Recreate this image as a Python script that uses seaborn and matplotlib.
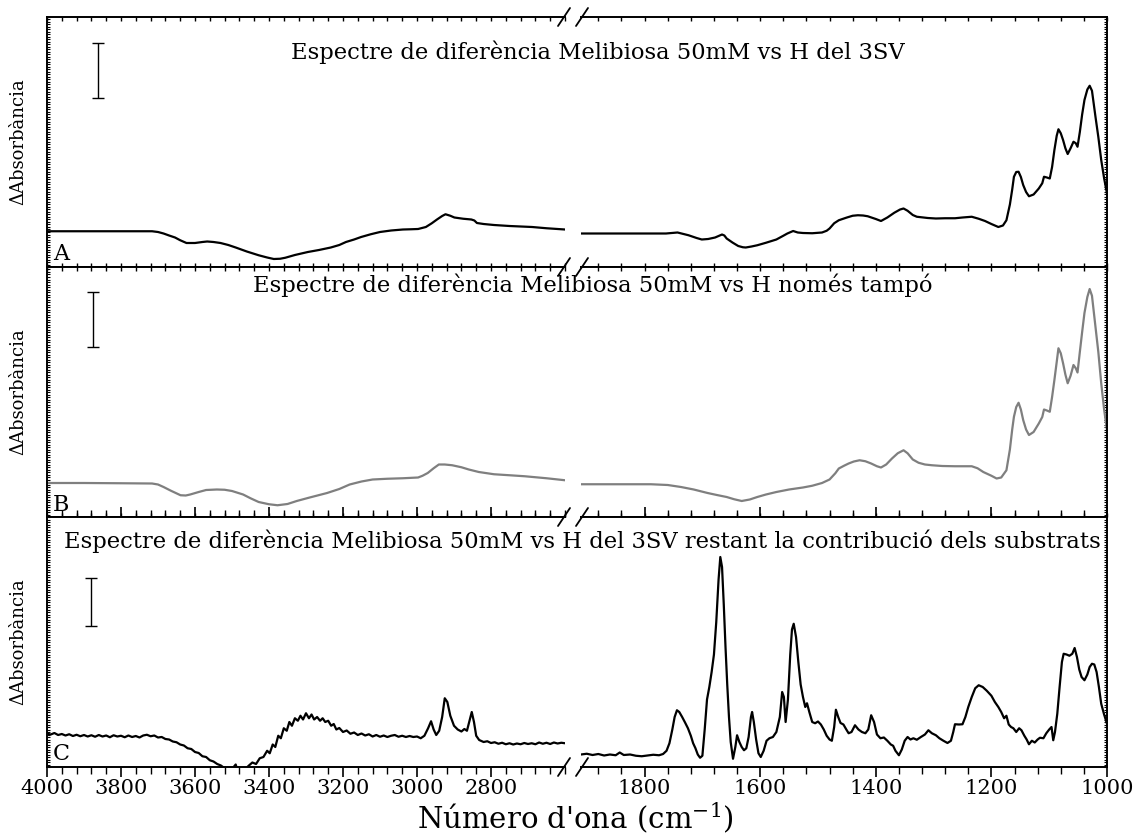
import numpy as np
import pandas as pd
import matplotlib
matplotlib.use("Agg")
import matplotlib.pyplot as plt
from matplotlib.lines import Line2D
from matplotlib.ticker import MultipleLocator, FixedLocator, NullFormatter
import seaborn as sns

# ---------------- data (arbitrary ΔA units, 0-100 = full panel height) ----------------
# Panel A : Melibiosa 50mM vs H del 3SV
a_left_wn = [4000, 3900, 3800, 3716, 3700, 3685, 3670, 3654, 3640, 3623, 3600, 3580, 3567, 3550, 3531, 3510,
             3490, 3460, 3428, 3405, 3387, 3370, 3356, 3330, 3295, 3265, 3233, 3210, 3192, 3170, 3151, 3125,
             3100, 3070, 3038, 3015, 2997, 2976, 2960, 2946, 2932, 2923, 2910, 2899, 2875, 2860, 2853, 2845,
             2838, 2820, 2792, 2750, 2689, 2650, 2600]
a_left_y = [14.3, 14.3, 14.3, 14.3, 14.0, 13.4, 12.6, 11.8, 10.7, 9.6, 9.6, 10.0, 10.2, 10.0, 9.6, 8.8,
            7.8, 6.2, 4.7, 3.8, 3.2, 3.3, 3.7, 4.8, 6.0, 6.8, 7.8, 8.8, 10.0, 11.0, 12.0, 13.1,
            14.0, 14.6, 15.0, 15.1, 15.2, 16.0, 17.5, 19.0, 20.4, 21.1, 20.5, 19.8, 19.3, 19.1, 19.0, 18.6,
            17.6, 17.2, 16.8, 16.4, 16.0, 15.5, 15.0]
a_right_wn = [1910, 1850, 1800, 1763, 1743, 1724, 1710, 1701, 1690, 1678, 1670, 1666, 1662, 1658, 1648, 1638,
              1630, 1625, 1615, 1605, 1590, 1572, 1560, 1553, 1543, 1535, 1526, 1510, 1493, 1485, 1480, 1472,
              1464, 1450, 1440, 1431, 1422, 1414, 1400, 1391, 1380, 1368, 1358, 1352, 1345, 1336, 1329, 1310,
              1296, 1280, 1263, 1250, 1234, 1222, 1211, 1200, 1188, 1180, 1174, 1168, 1164, 1161, 1157, 1153,
              1149, 1145, 1140, 1135, 1127, 1118, 1112, 1109, 1104, 1099, 1095, 1091, 1087, 1084, 1080, 1076,
              1072, 1068, 1063, 1058, 1054, 1051, 1047, 1043, 1039, 1034, 1030, 1026, 1020, 1015, 1010, 1005,
              1000]
a_right_y = [13.4, 13.4, 13.4, 13.4, 13.8, 12.7, 11.6, 11.0, 11.2, 11.8, 12.6, 13.0, 12.6, 11.4, 9.8, 8.4,
             7.9, 7.8, 8.2, 8.7, 9.7, 11.0, 12.5, 13.4, 14.4, 13.8, 13.6, 13.5, 13.8, 14.5, 15.4, 17.5,
             18.7, 19.8, 20.5, 20.7, 20.6, 20.3, 19.2, 18.4, 19.8, 21.7, 23.0, 23.4, 22.5, 20.8, 20.1, 19.6,
             19.4, 19.5, 19.5, 19.8, 20.1, 19.3, 18.4, 17.2, 16.0, 16.6, 18.7, 25.0, 31.0, 36.1, 38.0, 38.1,
             36.0, 32.8, 30.0, 28.3, 29.0, 31.4, 33.5, 36.1, 35.8, 35.4, 40.0, 46.8, 52.5, 55.1, 53.5, 50.8,
             47.5, 45.2, 47.5, 50.1, 49.5, 48.1, 54.0, 61.0, 66.8, 71.0, 72.5, 70.5, 60.2, 52.0, 42.8, 35.5,
             29.4]

# Panel B : Melibiosa 50mM vs H només tampó
b_left_wn = [4000, 3900, 3800, 3716, 3700, 3685, 3665, 3639, 3625, 3613, 3590, 3570, 3541, 3520, 3500, 3470,
             3450, 3428, 3400, 3377, 3350, 3325, 3290, 3243, 3210, 3182, 3150, 3120, 3080, 3038, 2997, 2985,
             2971, 2955, 2941, 2925, 2905, 2880, 2860, 2833, 2792, 2750, 2709, 2650, 2600]
b_left_y = [13.6, 13.6, 13.5, 13.4, 13.0, 12.0, 10.5, 8.7, 8.6, 9.0, 10.0, 10.8, 11.0, 10.9, 10.4, 9.0,
            7.5, 6.0, 5.1, 4.7, 5.2, 6.4, 7.8, 9.6, 11.2, 13.0, 14.2, 15.0, 15.3, 15.5, 15.8, 16.5,
            17.6, 19.5, 21.0, 21.0, 20.7, 19.9, 19.0, 18.0, 17.1, 16.7, 16.3, 15.5, 14.7]
b_right_wn = [1910, 1850, 1789, 1760, 1737, 1715, 1691, 1675, 1658, 1645, 1632, 1618, 1605, 1590, 1572, 1550,
              1526, 1510, 1493, 1480, 1470, 1464, 1455, 1447, 1438, 1428, 1418, 1408, 1398, 1391, 1382, 1372,
              1362, 1352, 1345, 1336, 1326, 1315, 1303, 1285, 1263, 1245, 1234, 1224, 1214, 1200, 1191, 1183,
              1174, 1168, 1164, 1161, 1157, 1153, 1149, 1145, 1140, 1135, 1127, 1118, 1112, 1109, 1104, 1099,
              1095, 1091, 1087, 1084, 1080, 1076, 1072, 1068, 1063, 1058, 1054, 1051, 1047, 1043, 1039, 1034,
              1030, 1026, 1020, 1015, 1010, 1005, 1000]
b_right_y = [13.1, 13.1, 13.1, 12.8, 12.0, 11.0, 9.6, 8.8, 8.0, 7.1, 6.4, 7.0, 8.0, 9.0, 10.0, 11.0,
             11.8, 12.5, 13.6, 15.0, 17.5, 19.4, 20.5, 21.4, 22.2, 22.7, 22.3, 21.4, 20.3, 19.8, 21.0, 23.4,
             25.5, 26.7, 25.5, 23.0, 21.7, 21.0, 20.7, 20.4, 20.3, 20.3, 20.3, 19.5, 18.0, 16.5, 15.4, 15.8,
             18.7, 27.0, 35.0, 40.1, 44.0, 45.7, 43.0, 38.8, 35.0, 32.8, 34.0, 37.4, 40.0, 43.0, 42.6, 42.1,
             48.0, 54.8, 62.0, 67.5, 65.5, 61.5, 57.0, 53.5, 56.5, 60.8, 59.5, 57.8, 66.0, 74.0, 81.6, 88.0,
             91.2, 88.5, 76.2, 66.0, 53.5, 43.0, 34.8]

# Panel C : Melibiosa 50mM vs H del 3SV restant la contribució dels substrats
c_left_wn = [4000, 3990, 3980, 3970, 3960, 3950, 3940, 3930, 3920, 3910, 3900, 3890, 3880, 3870, 3860, 3850,
             3840, 3830, 3820, 3810, 3800, 3790, 3780, 3770, 3760, 3750, 3740, 3730, 3720, 3710, 3700, 3690,
             3680, 3670, 3660, 3650, 3640, 3630, 3620, 3610, 3600, 3590, 3580, 3570, 3560, 3550, 3540, 3530,
             3520, 3510, 3500, 3490, 3485, 3475, 3465, 3455, 3445, 3435, 3425, 3415, 3405, 3398, 3390, 3383,
             3375, 3368, 3360, 3352, 3345, 3338, 3330, 3322, 3315, 3308, 3300, 3292, 3285, 3278, 3270, 3262,
             3255, 3248, 3240, 3232, 3225, 3218, 3210, 3200, 3190, 3180, 3170, 3160, 3150, 3140, 3130, 3120,
             3110, 3100, 3090, 3080, 3070, 3060, 3050, 3040, 3030, 3020, 3010, 3000, 2990, 2980, 2970, 2962,
             2955, 2948, 2940, 2932, 2925, 2918, 2910, 2900, 2890, 2880, 2872, 2865, 2858, 2852, 2846, 2840,
             2832, 2820, 2810, 2800, 2790, 2780, 2770, 2760, 2750, 2740, 2730, 2720, 2710, 2700, 2690, 2680,
             2670, 2660, 2650, 2640, 2630, 2620, 2610, 2600]
c_left_y = [13.3, 13.0, 13.6, 12.8, 13.2, 12.6, 13.1, 12.4, 12.9, 12.3, 12.8, 12.2, 12.7, 12.1, 12.8, 12.2,
            12.6, 11.9, 12.7, 12.2, 12.5, 11.9, 12.6, 12.0, 12.4, 11.8, 12.6, 12.9, 12.3, 12.6, 11.8, 12.0,
            11.2, 11.0, 10.2, 9.9, 9.0, 8.6, 7.5, 7.2, 6.0, 5.6, 4.3, 4.0, 2.7, 2.2, 1.2, 0.6,
            -0.5, -1.0, -0.8, 1.0, -1.5, -2.0, -1.0, 0.5, 1.8, 1.2, 3.5, 4.0, 6.5, 5.5, 9.0, 8.0,
            12.5, 11.5, 15.5, 14.5, 18.0, 16.5, 19.5, 18.5, 20.5, 19.0, 21.5, 19.5, 21.0, 19.0, 20.0, 18.5,
            19.5, 18.0, 18.5, 16.5, 17.2, 15.0, 15.6, 14.0, 14.6, 13.3, 13.8, 12.8, 13.4, 12.6, 13.1, 12.2,
            12.8, 12.1, 12.6, 12.0, 12.5, 12.8, 12.1, 12.5, 12.0, 12.4, 12.0, 12.2, 11.5, 12.5, 15.5, 18.3,
            15.0, 12.8, 14.5, 20.0, 27.5, 26.0, 20.5, 16.5, 15.0, 14.2, 15.2, 14.5, 18.5, 22.0, 18.0, 12.5,
            10.8, 10.0, 10.3, 9.6, 9.9, 9.3, 9.7, 9.1, 9.5, 9.0, 9.4, 9.1, 9.6, 9.2, 9.5, 9.1,
            9.8, 9.3, 9.7, 9.2, 9.8, 9.4, 9.7, 9.5]
c_right_wn = [1910, 1900, 1890, 1880, 1870, 1860, 1850, 1843, 1836, 1825, 1815, 1805, 1795, 1785, 1775, 1768,
              1762, 1757, 1752, 1748, 1744, 1740, 1735, 1730, 1725, 1720, 1716, 1712, 1708, 1704, 1700, 1696,
              1692, 1688, 1684, 1680, 1676, 1672, 1669, 1666, 1663, 1660, 1657, 1654, 1651, 1647, 1643, 1640,
              1636, 1632, 1628, 1624, 1620, 1616, 1614, 1611, 1607, 1603, 1599, 1594, 1589, 1584, 1578, 1572,
              1566, 1562, 1559, 1556, 1552, 1548, 1545, 1542, 1538, 1534, 1530, 1526, 1522, 1519, 1515, 1510,
              1505, 1500, 1495, 1490, 1485, 1480, 1476, 1472, 1469, 1465, 1461, 1456, 1451, 1447, 1442, 1436,
              1430, 1424, 1418, 1413, 1408, 1403, 1398, 1392, 1386, 1380, 1374, 1370, 1366, 1360, 1355, 1350,
              1345, 1340, 1335, 1329, 1322, 1315, 1309, 1303, 1296, 1290, 1283, 1276, 1270, 1266, 1263, 1256,
              1250, 1245, 1240, 1234, 1228, 1222, 1215, 1208, 1200, 1194, 1188, 1183, 1178, 1174, 1170, 1166,
              1162, 1157, 1152, 1148, 1143, 1139, 1135, 1130, 1125, 1120, 1116, 1110, 1105, 1100, 1096, 1093,
              1090, 1086, 1082, 1078, 1075, 1070, 1065, 1060, 1056, 1052, 1048, 1044, 1039, 1034, 1030, 1026,
              1022, 1018, 1014, 1010, 1005, 1000]
c_right_y = [5.0, 5.3, 4.8, 5.2, 4.6, 5.0, 4.7, 5.8, 4.8, 5.0, 4.5, 4.3, 4.6, 4.9, 4.7, 5.2,
             6.5, 9.5, 15.0, 20.0, 22.7, 22.0, 20.0, 17.8, 15.5, 12.5, 9.5, 7.5, 5.0, 3.7, 4.5, 15.0,
             27.0, 32.0, 38.0, 45.0, 58.0, 75.0, 84.0, 80.0, 65.0, 48.0, 33.0, 20.0, 10.0, 3.3, 8.0, 12.7,
             10.0, 8.0, 6.7, 7.5, 12.0, 20.0, 22.0, 18.0, 11.0, 5.5, 4.0, 6.5, 10.5, 11.5, 12.0, 14.0,
             20.0, 30.0, 28.0, 18.0, 27.0, 45.0, 55.0, 57.3, 52.0, 42.0, 33.0, 28.0, 24.0, 25.5, 22.0, 18.0,
             17.5, 18.2, 17.0, 15.0, 12.5, 11.0, 10.5, 16.0, 22.9, 20.0, 17.6, 17.0, 15.0, 13.5, 14.0, 16.7,
             15.0, 14.0, 13.5, 15.0, 20.7, 18.0, 13.0, 11.5, 11.8, 10.5, 9.0, 8.5, 6.5, 4.7, 7.0, 10.5,
             12.0, 11.0, 11.5, 10.9, 12.0, 13.0, 14.7, 13.5, 12.7, 11.5, 10.5, 9.6, 10.5, 14.0, 17.1, 17.0,
             17.1, 20.0, 24.0, 28.0, 31.5, 32.7, 32.0, 30.5, 28.5, 26.0, 24.0, 22.0, 19.5, 20.5, 17.0, 16.0,
             15.5, 14.0, 15.5, 14.7, 12.5, 11.0, 9.1, 10.5, 9.8, 11.0, 11.7, 11.5, 13.5, 15.0, 16.0, 10.7,
             14.0, 21.3, 32.0, 42.0, 45.3, 45.0, 44.5, 45.3, 47.6, 44.0, 39.0, 36.0, 34.7, 37.0, 40.0, 41.3,
             41.0, 38.0, 32.0, 25.3, 21.0, 17.3]

titles = ["Espectre de diferència Melibiosa 50mM vs H del 3SV",
          "Espectre de diferència Melibiosa 50mM vs H només tampó",
          "Espectre de diferència Melibiosa 50mM vs H del 3SV restant la contribució dels substrats"]
panel_letters = ["A", "B", "C"]
line_colors = ["black", "#7f7f7f", "black"]
scale_bar_wn = [3861, 3875, 3880]
scale_bar_lo = [67.4, 68.2, 56.3]
scale_bar_hi = [89.6, 90.0, 75.7]
left_ticks = [4000, 3800, 3600, 3400, 3200, 3000, 2800]
right_ticks = [1800, 1600, 1400, 1200, 1000]
y_label = "ΔAbsorbància"
x_label = "Número d'ona (cm$^{-1}$)"

series = [
    (a_left_wn, a_left_y, a_right_wn, a_right_y),
    (b_left_wn, b_left_y, b_right_wn, b_right_y),
    (c_left_wn, c_left_y, c_right_wn, c_right_y),
]

# ---------------- style ----------------
sns.set_theme(style="ticks")
plt.rcParams["font.family"] = ["DejaVu Serif"]
plt.rcParams["mathtext.fontset"] = "dejavuserif"
plt.rcParams["text.color"] = "black"
plt.rcParams["xtick.color"] = "black"
plt.rcParams["ytick.color"] = "black"
plt.rcParams["axes.labelcolor"] = "black"

W, H = 1134, 836
fig = plt.figure(figsize=(W / 100, H / 100), dpi=100)

x_l0, x_l1 = 47, 565      # left axes pixel extent
x_r0, x_r1 = 581, 1107    # right axes pixel extent
panel_edges = [17, 267, 517, 767]

for i in range(3):
    top_px, bot_px = panel_edges[i], panel_edges[i + 1]
    hfrac = (bot_px - top_px) / H
    yb = 1 - bot_px / H
    axL = fig.add_axes([x_l0 / W, yb, (x_l1 - x_l0) / W, hfrac])
    axR = fig.add_axes([x_r0 / W, yb, (x_r1 - x_r0) / W, hfrac])
    lw_, ly_, rw_, ry_ = series[i]
    dfl = pd.DataFrame({"wn": lw_, "v": ly_})
    dfr = pd.DataFrame({"wn": rw_, "v": ry_})
    sns.lineplot(data=dfl, x="wn", y="v", ax=axL, color=line_colors[i], lw=1.6,
                 sort=False, estimator=None)
    sns.lineplot(data=dfr, x="wn", y="v", ax=axR, color=line_colors[i], lw=1.6,
                 sort=False, estimator=None)
    axL.set_xlim(4000, 2600)
    axR.set_xlim(1910, 1000)
    for ax in (axL, axR):
        ax.set_ylim(0, 100)
        ax.set_xlabel("")
        ax.set_ylabel("")
        ax.yaxis.set_major_locator(FixedLocator(np.arange(0, 101, 1.0)))
        ax.yaxis.set_major_formatter(NullFormatter())
        ax.tick_params(axis="y", which="both", direction="in", length=2, width=0.8,
                       left=True, right=True)
        for s in ax.spines.values():
            s.set_linewidth(1.4)
            s.set_color("black")
    axL.spines["right"].set_visible(False)
    axL.tick_params(axis="y", right=False)
    axR.spines["left"].set_visible(False)
    axR.tick_params(axis="y", left=False)
    axL.xaxis.set_major_locator(FixedLocator(left_ticks))
    axL.xaxis.set_minor_locator(MultipleLocator(40))
    axR.xaxis.set_major_locator(FixedLocator(right_ticks))
    axR.xaxis.set_minor_locator(MultipleLocator(40))
    for ax in (axL, axR):
        if i == 2:
            ax.tick_params(axis="x", which="major", direction="out", length=7, width=1.2,
                           top=True, bottom=True, labelsize=15, pad=2)
            ax.tick_params(axis="x", which="minor", direction="out", length=5, width=1.0,
                           top=True, bottom=True)
            ax.set_xticklabels([str(t) for t in (left_ticks if ax is axL else right_ticks)])
        else:
            ax.tick_params(axis="x", which="both", direction="in", length=3, width=1.0,
                           top=True, bottom=True, labelbottom=False)
    # scale bar
    axL.errorbar([scale_bar_wn[i]], [(scale_bar_lo[i] + scale_bar_hi[i]) / 2],
                 yerr=[(scale_bar_hi[i] - scale_bar_lo[i]) / 2], color="black",
                 lw=1.0, capsize=4, capthick=1.0, fmt="none")
    axL.set_ylabel(y_label, fontsize=13, labelpad=11)
    axL.text(0.012, 0.006, panel_letters[i], transform=axL.transAxes, fontsize=16,
             ha="left", va="bottom")

# titles
fig.text(598 / W, 1 - 52 / H, titles[0], fontsize=16.3, ha="center", va="center")
fig.text(593 / W, 1 - 285 / H, titles[1], fontsize=16.3, ha="center", va="center")
fig.text(582 / W, 1 - 541 / H, titles[2], fontsize=16.3, ha="center", va="center")

# x label
fig.text(575 / W, 1 / H, x_label, fontsize=21, ha="center", va="bottom")

# break marks
for yy in panel_edges:
    for xx in (x_l1 - 1, x_r0 + 1):
        fig.add_artist(Line2D([(xx - 6) / W, (xx + 6) / W],
                              [1 - (yy + 9) / H, 1 - (yy - 9) / H],
                              transform=fig.transFigure, color="black", lw=1.3))

fig.savefig("out.png", dpi=100)
